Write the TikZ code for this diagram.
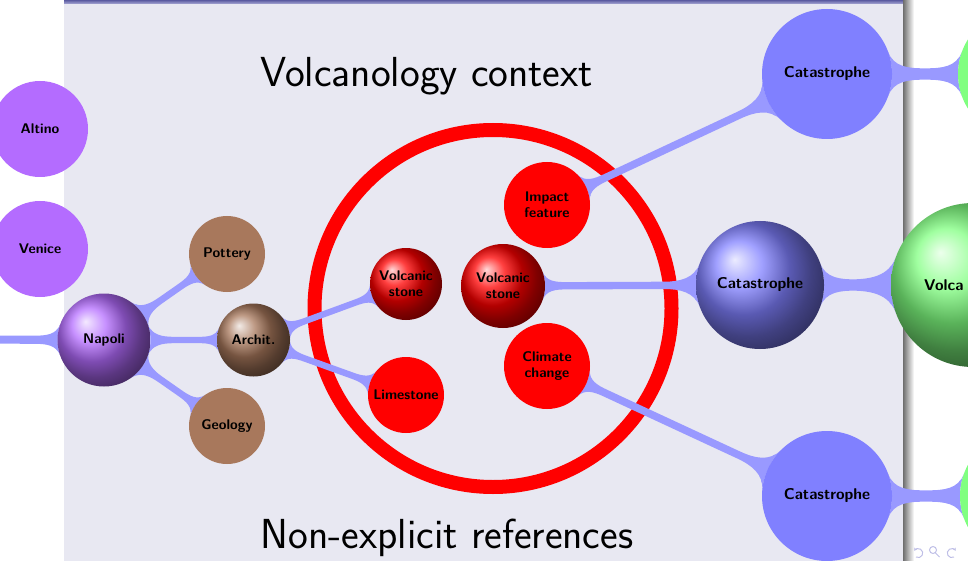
\documentclass[tikz,border=0pt]{standalone}
\usetikzlibrary{mindmap,shadings,arrows.meta}
\definecolor{slidebg}{RGB}{232,232,242}
\definecolor{purpc}{RGB}{180,108,255}
\definecolor{brownc}{RGB}{168,120,92}
\definecolor{catc}{RGB}{128,128,255}
\definecolor{greenc}{RGB}{128,255,128}
\definecolor{connc}{RGB}{153,153,255}
\definecolor{navc}{RGB}{190,190,230}
\pgfdeclarelayer{back}
\pgfdeclarelayer{conn}
\pgfsetlayers{back,conn,main}
\begin{document}
\begin{tikzpicture}[x=1pt,y=-1pt,
  lbl/.style={font=\sffamily\bfseries\fontsize{14}{16}\selectfont, text=black, align=center},
  biglbl/.style={font=\sffamily\bfseries\fontsize{15.6}{18}\selectfont},
  flat/.style 2 args={circle, fill=#1, minimum size=#2, inner sep=0pt, outer sep=0pt, lbl},
  ball/.style 2 args={circle, shading=ball, ball color=#1, minimum size=#2, inner sep=0pt, outer sep=0pt, lbl},
  cb/.style={circle connection bar switch color=from (connc) to (connc)},
  ttl/.style={font=\sffamily\fontsize{42}{48}\selectfont, text=black, anchor=base}
]
\useasboundingbox (0,0) rectangle (968,561);
% nodes
\node[flat={purpc}{96pt}] (altino) at (40,129) {Altino};
\node[flat={purpc}{96pt}] (venice) at (40,249) {Venice};
\node[flat={purpc}{120pt}] (parent) at (-160,339) {};
\node[ball={purpc}{93pt}] (napoli) at (104,340) {Napoli};
\node[flat={brownc}{76pt}] (pottery) at (227,254) {Pottery};
\node[ball={brownc}{73pt}] (archit) at (253.5,340) {Archit.};
\node[flat={brownc}{76pt}] (geology) at (227,426) {Geology};
\node[ball={red}{72pt}] (vs1) at (406,284) {Volcanic\\stone};
\node[ball={red}{84pt}] (vs2) at (503,286) {Volcanic\\stone};
\node[flat={red}{86pt}] (impact) at (547,205) {Impact\\feature};
\node[flat={red}{86pt}] (climate) at (547,366) {Climate\\change};
\node[flat={red}{76pt}] (lime) at (406,395) {Limestone};
\node[flat={catc}{130pt}, biglbl] (cat1) at (827,74) {Catastrophe};
\node[ball={catc}{128pt}, biglbl] (cat2) at (760,285) {Catastrophe};
\node[flat={catc}{130pt}, biglbl] (cat3) at (827,496) {Catastrophe};
\node[flat={greenc}{130pt}] (g1) at (1023,74) {};
\node[ball={greenc}{164pt}] (g2) at (973,285) {};
\node[flat={greenc}{130pt}] (g3) at (1025,496) {};
\node[lbl, biglbl, anchor=west, inner sep=0pt] (volca) at (924,285) {Volca};
% titles
\node[ttl] (t1) at (426.5,87) {Volcanology context};
\node[ttl] (t2) at (447,548) {Non-explicit references};
% background
\begin{pgfonlayer}{back}
\fill[slidebg] (64,0) rectangle (903,561);
\shade[top color={rgb,255:red,90;green,90;blue,160}, bottom color={rgb,255:red,170;green,170;blue,215}] (64,0) rectangle (903,4);
\shade[left color={rgb,255:red,110;green,110;blue,110}, right color=white] (903,0) rectangle (914,561);
\draw[red, line width=14pt] (493,308.5) circle[radius=178.5pt];
\end{pgfonlayer}
% connectors
\begin{pgfonlayer}{conn}
\path (parent) to[cb] (napoli);
\path (napoli) to[cb] (pottery);
\path (napoli) to[cb] (archit);
\path (napoli) to[cb] (geology);
\path (archit) to[cb] (vs1);
\path (archit) to[cb] (lime);
\path (vs2) to[cb] (cat2);
\path (impact) to[cb] (cat1);
\path (climate) to[cb] (cat3);
\path (cat1) to[cb] (g1);
\path (cat2) to[cb] (g2);
\path (cat3) to[cb] (g3);
\end{pgfonlayer}
% navigation symbols
\draw[navc, line width=1pt, -{Stealth[length=3pt,width=3.5pt]}] (916,557) arc[start angle=-120, end angle=150, radius=4.5pt];
\draw[navc, line width=1pt] (933,550) circle[radius=3.5pt] (935.5,553) -- (939.5,557);
\draw[navc, line width=1pt, -{Stealth[length=3pt,width=3.5pt]}] (954,557) arc[start angle=-60, end angle=-330, radius=4.5pt];
\end{tikzpicture}
\end{document}
